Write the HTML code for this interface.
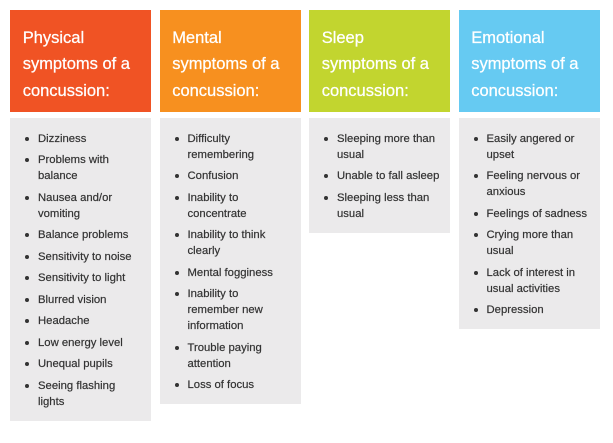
<!DOCTYPE html>
<html>
<head>
<meta charset="utf-8">
<style>
  html, body { margin:0; padding:0; }
  body { width:613px; height:443px; background:#ffffff; position:relative; overflow:hidden;
         font-family:"Liberation Sans", "DejaVu Sans", sans-serif; }
  .hd { position:absolute; top:10px; height:102px; width:141px; box-sizing:border-box;
        padding:14.6px 0 0 12.7px; color:#ffffff; font-size:16.5px; line-height:26.5px; white-space:nowrap;
        -webkit-text-stroke:0.25px #ffffff; }
  .bd { position:absolute; top:118px; width:141px; background:#ebeaeb; box-sizing:border-box;
        padding-top:12.5px; }
  ul { list-style:none; margin:0; padding:0; }
  li { position:relative; padding-left:28px; font-size:11.3px; line-height:16px; color:#333333;
       margin-bottom:5.5px; white-space:nowrap; -webkit-text-stroke:0.2px #333333; }
  li:last-child { margin-bottom:0; }
  li::before { content:""; position:absolute; left:15.3px; top:6px; width:4px; height:4px;
               border-radius:50%; background:#333333; }
</style>
</head>
<body>
  <div class="hd" style="left:10px; background:#f05324;">Physical<br>symptoms of a<br>concussion:</div>
  <div class="hd" style="left:159.5px; background:#f7901f;">Mental<br>symptoms of a<br>concussion:</div>
  <div class="hd" style="left:309px; background:#c2d52f;">Sleep<br>symptoms of a<br>concussion:</div>
  <div class="hd" style="left:458.5px; background:#66caf2;">Emotional<br>symptoms of a<br>concussion:</div>

  <div class="bd" style="left:10px; height:302.7px;">
    <ul>
      <li>Dizziness</li>
      <li>Problems with<br>balance</li>
      <li>Nausea and/or<br>vomiting</li>
      <li>Balance problems</li>
      <li>Sensitivity to noise</li>
      <li>Sensitivity to light</li>
      <li>Blurred vision</li>
      <li>Headache</li>
      <li>Low energy level</li>
      <li>Unequal pupils</li>
      <li>Seeing flashing<br>lights</li>
    </ul>
  </div>

  <div class="bd" style="left:159.5px; height:286px;">
    <ul>
      <li>Difficulty<br>remembering</li>
      <li>Confusion</li>
      <li>Inability to<br>concentrate</li>
      <li>Inability to think<br>clearly</li>
      <li>Mental fogginess</li>
      <li>Inability to<br>remember new<br>information</li>
      <li>Trouble paying<br>attention</li>
      <li>Loss of focus</li>
    </ul>
  </div>

  <div class="bd" style="left:309px; height:114.7px;">
    <ul>
      <li>Sleeping more than<br>usual</li>
      <li>Unable to fall asleep</li>
      <li>Sleeping less than<br>usual</li>
    </ul>
  </div>

  <div class="bd" style="left:458.5px; height:211px;">
    <ul>
      <li>Easily angered or<br>upset</li>
      <li>Feeling nervous or<br>anxious</li>
      <li>Feelings of sadness</li>
      <li>Crying more than<br>usual</li>
      <li>Lack of interest in<br>usual activities</li>
      <li>Depression</li>
    </ul>
  </div>
</body>
</html>
